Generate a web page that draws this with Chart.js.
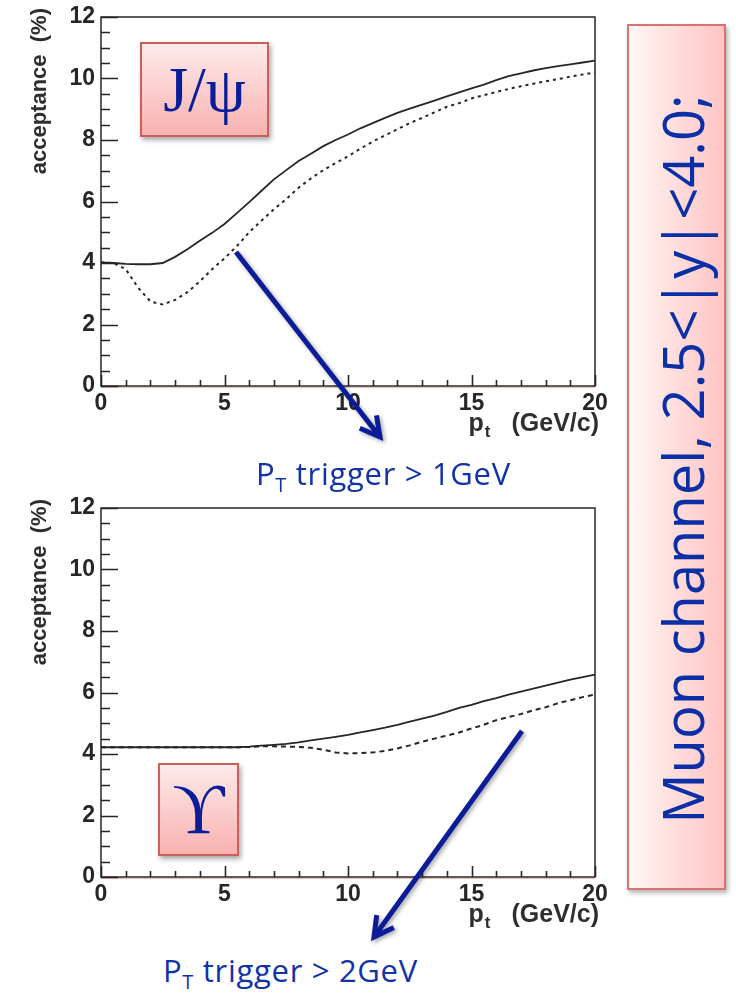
<!DOCTYPE html>
<html lang="en">
<head>
<meta charset="UTF-8">
<title>Muon channel acceptance</title>
<script src="https://cdn.jsdelivr.net/npm/chart.js@4.4.0/dist/chart.umd.min.js"></script>
<style>
  body { margin: 0; background: #fff; }
  #page { position: relative; width: 736px; height: 995px; overflow: hidden; }
  .plot { position: absolute; left: 0; }
  .tag {
    position: absolute; box-sizing: border-box;
    border: 2px solid #c9605c;
    background: linear-gradient(#fdeaea, #f8b2b0);
    box-shadow: 2px 3px 5px rgba(0,0,0,.35);
    color: #0b1e9a; font-family: "Liberation Serif", "DejaVu Serif", serif;
    display: flex; align-items: center; justify-content: center;
  }
  #side {
    position: absolute; left: 627px; top: 24px; width: 99px; height: 866px; box-sizing: border-box;
    border: 2px solid #d8736f;
    background: linear-gradient(to right, #fff6f6, #ffc4c2);
    box-shadow: 2px 3px 5px rgba(0,0,0,.3);
  }
  #sideText {
    position: absolute; left: 682px; top: 459px; white-space: nowrap;
    font-family: "Open Sans", sans-serif; font-size: 56px; color: #0a2fa6; line-height: 1;
  }
  .trig {
    position: absolute; white-space: nowrap; line-height: normal;
    font-family: "Open Sans", sans-serif; font-size: 31px; letter-spacing: 0.7px; color: #1232a8;
  }
  .trig sub { font-size: 20px; vertical-align: -7px; line-height: 0; }
  svg { position: absolute; left: 0; top: 0; }
</style>
</head>
<body>
<div id="page">
  <canvas id="jpsi" class="plot" width="610" height="445" style="top:0"></canvas>
  <canvas id="upsilon" class="plot" width="610" height="445" style="top:491px"></canvas>

  <div class="tag" style="left:140px;top:42px;width:129px;height:95px;font-size:64px;">J/ψ</div>
  <div class="tag" style="left:158px;top:763px;width:81px;height:93px;font-size:72px;">ϒ</div>

  <div id="side"></div>
  <div id="sideText">Muon channel, 2.5&lt;|y|&lt;4.0;</div>

  <div class="trig" style="left:256px;top:452px;">P<sub>T</sub> trigger &gt; 1GeV</div>
  <div class="trig" style="left:163px;top:949px;">P<sub>T</sub> trigger &gt; 2GeV</div>

  <svg id="arrows" width="736" height="995"></svg>
</div>

<script>
// transverse momentum bins (GeV/c)
const ptValues = [0, 0.5, 1, 1.5, 2, 2.5, 3, 3.5, 4, 4.5, 5, 5.5, 6, 6.5, 7, 7.5, 8, 8.5, 9, 9.5,
                  10, 10.5, 11, 11.5, 12, 12.5, 13, 13.5, 14, 14.5, 15, 15.5, 16, 16.5, 17, 17.5,
                  18, 18.5, 19, 19.5, 20];

// J/psi acceptance (%), no trigger cut and pt trigger > 1 GeV
const jpsiAll = [4.02, 4.0, 3.97, 3.96, 3.96, 4.0, 4.2, 4.45, 4.72, 4.98, 5.27, 5.62, 5.98, 6.35,
                 6.72, 7.02, 7.32, 7.55, 7.8, 8.0, 8.18, 8.38, 8.55, 8.72, 8.88, 9.02, 9.15, 9.28,
                 9.42, 9.55, 9.68, 9.8, 9.95, 10.08, 10.17, 10.26, 10.34, 10.4, 10.46, 10.52, 10.58];
const jpsiTrig = [4.02, 4.0, 3.8, 3.2, 2.75, 2.65, 2.8, 3.05, 3.4, 3.8, 4.15, 4.55, 5.0, 5.38,
                  5.75, 6.08, 6.45, 6.75, 7.02, 7.25, 7.47, 7.72, 7.95, 8.15, 8.35, 8.55, 8.72, 8.9,
                  9.08, 9.2, 9.35, 9.46, 9.56, 9.66, 9.75, 9.83, 9.91, 9.98, 10.06, 10.13, 10.2];

// Upsilon acceptance (%), no trigger cut and pt trigger > 2 GeV
const upsAll = [4.22, 4.22, 4.22, 4.22, 4.22, 4.22, 4.22, 4.22, 4.22, 4.22, 4.22, 4.22, 4.24, 4.27,
                4.3, 4.33, 4.38, 4.44, 4.5, 4.56, 4.62, 4.7, 4.78, 4.86, 4.95, 5.05, 5.15, 5.25,
                5.37, 5.5, 5.6, 5.72, 5.82, 5.93, 6.03, 6.13, 6.22, 6.32, 6.42, 6.5, 6.58];
const upsTrig = [4.22, 4.22, 4.22, 4.22, 4.22, 4.22, 4.22, 4.22, 4.22, 4.22, 4.22, 4.22, 4.23, 4.25,
                 4.25, 4.24, 4.23, 4.2, 4.14, 4.05, 4.02, 4.03, 4.05, 4.1, 4.18, 4.28, 4.4, 4.5,
                 4.6, 4.7, 4.83, 4.95, 5.1, 5.2, 5.3, 5.42, 5.52, 5.65, 5.75, 5.85, 5.93];

const yTickValues = [0, 2, 4, 6, 8, 10, 12];
const xTickValues = [0, 5, 10, 15, 20];

const axisFont = { family: "'Liberation Sans', Arial, sans-serif", size: 23, weight: 'bold' };
const inkColor = '#262626';

// ROOT style frame: inward major/minor ticks, axis titles
const rootFrame = {
  id: 'rootFrame',
  afterDraw(chart) {
    const { ctx, chartArea: a, scales: { x, y } } = chart;
    ctx.save();
    ctx.strokeStyle = inkColor;
    ctx.lineWidth = 1.5;
    ctx.strokeRect(a.left, a.top, a.right - a.left, a.bottom - a.top);
    // faint salmon rule under the bottom edge
    ctx.strokeStyle = 'rgba(225,140,115,0.55)';
    ctx.lineWidth = 1;
    ctx.beginPath();
    ctx.moveTo(a.left, a.bottom + 1.5); ctx.lineTo(a.right, a.bottom + 1.5);
    ctx.stroke();

    ctx.strokeStyle = inkColor;
    ctx.lineWidth = 1.6;
    ctx.beginPath();
    for (let v = 0; v <= 12; v += 0.5) {
      const py = Math.round(y.getPixelForValue(v)) + 0.5;
      const len = v % 2 === 0 ? 17 : 9;
      ctx.moveTo(a.left, py); ctx.lineTo(a.left + len, py);
    }
    for (let v = 0; v <= 20; v += 1) {
      const px = Math.round(x.getPixelForValue(v)) + 0.5;
      const len = v % 5 === 0 ? 11 : 6;
      ctx.moveTo(px, a.bottom); ctx.lineTo(px, a.bottom - len);
    }
    ctx.stroke();

    ctx.fillStyle = '#2e2e2e';
    // y title, ending near the top of the axis
    ctx.save();
    ctx.translate(40, 8);
    ctx.rotate(-Math.PI / 2);
    ctx.font = "bold 22px 'Liberation Sans', Arial, sans-serif";
    ctx.textAlign = 'right';
    ctx.textBaseline = 'middle';
    ctx.fillText('acceptance  (%)', 0, 0);
    ctx.restore();

    // x title: p_t (GeV/c), right aligned under the last tick label
    const base = a.bottom + 45;
    ctx.font = "bold 25px 'Liberation Sans', Arial, sans-serif";
    ctx.textBaseline = 'alphabetic';
    ctx.textAlign = 'right';
    const unit = '(GeV/c)';
    const right = a.right + 4;
    ctx.fillText(unit, right, base);
    const uw = ctx.measureText(unit).width;
    ctx.font = "bold 17px 'Liberation Sans', Arial, sans-serif";
    ctx.fillText('t', right - uw - 21, base + 6);
    const tw = ctx.measureText('t').width;
    ctx.font = "bold 25px 'Liberation Sans', Arial, sans-serif";
    ctx.fillText('p', right - uw - 21 - tw - 1, base);
    ctx.restore();
  }
};

function makeChart(id, all, trig, dash) {
  const pts = arr => ptValues.map((p, i) => ({ x: p, y: arr[i] }));
  return new Chart(document.getElementById(id), {
    type: 'line',
    data: {
      datasets: [
        { data: pts(trig), borderColor: inkColor, borderWidth: 2, borderDash: dash,
          pointRadius: 0, fill: false, tension: 0 },
        { data: pts(all), borderColor: inkColor, borderWidth: 1.8,
          pointRadius: 0, fill: false, tension: 0 }
      ]
    },
    options: {
      responsive: false,
      animation: false,
      layout: { padding: { left: 0, right: 15, top: 17, bottom: 0 } },
      plugins: { legend: { display: false }, tooltip: { enabled: false } },
      scales: {
        x: {
          type: 'linear', min: 0, max: 20,
          grid: { display: false, drawTicks: false }, border: { display: false },
          afterBuildTicks: s => { s.ticks = xTickValues.map(v => ({ value: v })); },
          ticks: { font: axisFont, color: inkColor, padding: 4, maxRotation: 0 },
          afterFit: s => { s.height = 59; s.paddingLeft = 0; s.paddingRight = 0; }
        },
        y: {
          min: 0, max: 12,
          grid: { display: false, drawTicks: false }, border: { display: false },
          afterBuildTicks: s => { s.ticks = yTickValues.map(v => ({ value: v })); },
          ticks: { font: axisFont, color: inkColor, padding: 6 },
          afterFit: s => { s.width = 101; s.paddingTop = 0; s.paddingBottom = 0; }
        }
      }
    },
    plugins: [rootFrame]
  });
}

makeChart('jpsi', jpsiAll, jpsiTrig, [3, 4]);
makeChart('upsilon', upsAll, upsTrig, [5, 4]);

// rotated side caption, stretched to the box length
const side = document.getElementById('sideText');
const sx = 730 / side.offsetWidth;
side.style.transform = 'translate(-50%,-50%) rotate(-90deg) scale(' + sx + ',1)';

// callout arrows
const svg = document.getElementById('arrows');
function arrow(x1, y1, x2, y2) {
  const ang = Math.atan2(y2 - y1, x2 - x1), len = 22, spread = 0.5;
  const ax = x2 - len * Math.cos(ang - spread), ay = y2 - len * Math.sin(ang - spread);
  const bx = x2 - len * Math.cos(ang + spread), by = y2 - len * Math.sin(ang + spread);
  svg.insertAdjacentHTML('beforeend',
    '<g stroke="#0b1c98" stroke-width="5" fill="none" stroke-linecap="butt" stroke-linejoin="miter"' +
    ' style="filter:drop-shadow(2px 2px 2px rgba(0,0,0,.35))">' +
    '<line x1="' + x1 + '" y1="' + y1 + '" x2="' + x2 + '" y2="' + y2 + '"/>' +
    '<polyline points="' + ax + ',' + ay + ' ' + x2 + ',' + y2 + ' ' + bx + ',' + by + '"/></g>');
}
arrow(236, 252, 380, 437);
arrow(522, 731, 374, 937);
</script>
</body>
</html>
